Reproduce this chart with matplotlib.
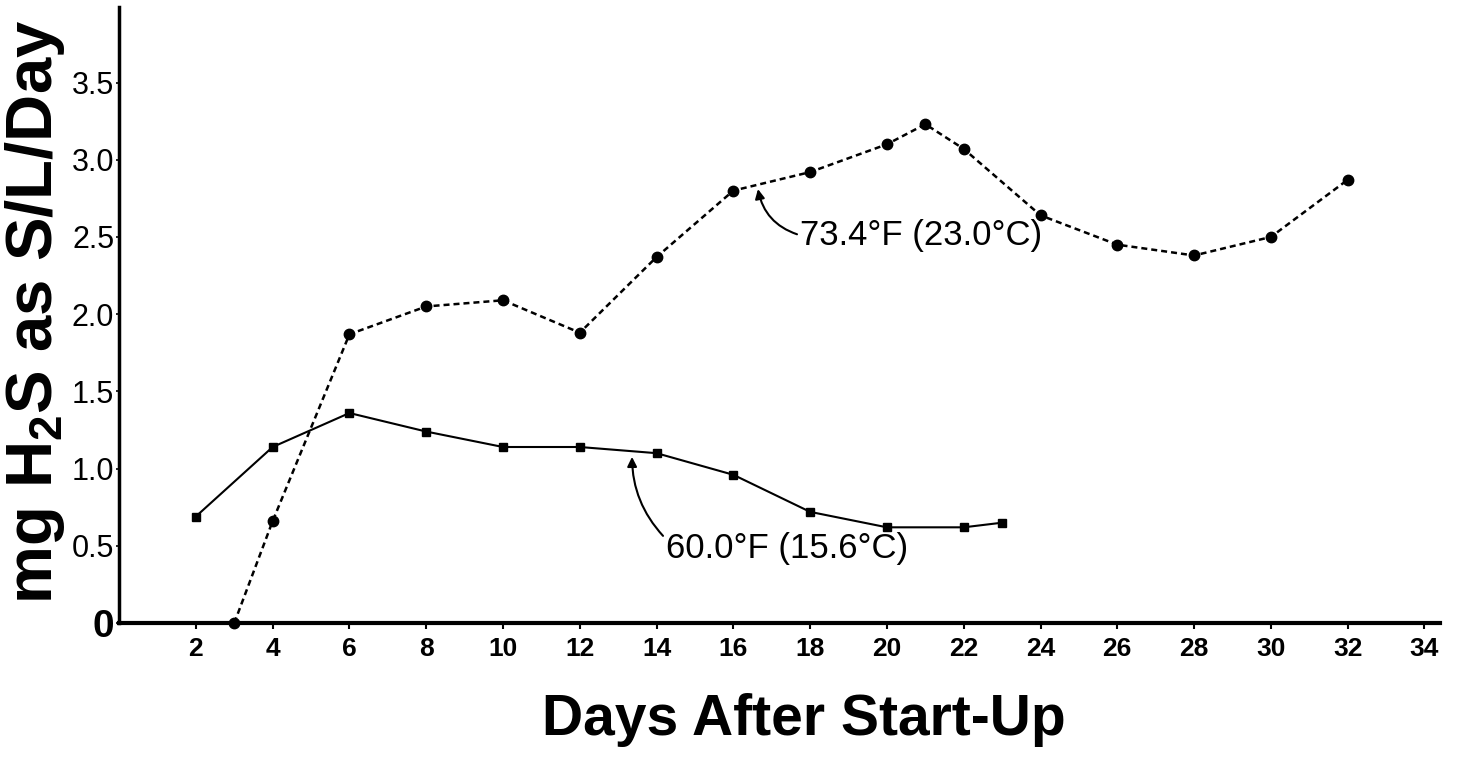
import matplotlib
matplotlib.use("Agg")
import matplotlib.pyplot as plt
from matplotlib import font_manager

# ---- data ----
days_warm = [3, 4, 6, 8, 10, 12, 14, 16, 18, 20, 21, 22, 24, 26, 28, 30, 32]
h2s_warm = [0.0, 0.66, 1.87, 2.05, 2.09, 1.88, 2.37, 2.80, 2.92, 3.10, 3.23, 3.07, 2.64, 2.45, 2.38, 2.50, 2.87]

days_cool = [2, 4, 6, 8, 10, 12, 14, 16, 18, 20, 22, 23]
h2s_cool = [0.69, 1.14, 1.36, 1.24, 1.14, 1.14, 1.10, 0.96, 0.72, 0.62, 0.62, 0.65]

x_ticks = [2, 4, 6, 8, 10, 12, 14, 16, 18, 20, 22, 24, 26, 28, 30, 32, 34]
y_ticks = [0, 0.5, 1.0, 1.5, 2.0, 2.5, 3.0, 3.5]
y_tick_labels = ["0", "0.5", "1.0", "1.5", "2.0", "2.5", "3.0", "3.5"]

label_warm = "73.4°F (23.0°C)"
label_cool = "60.0°F (15.6°C)"
x_label = "Days After Start-Up"
y_label = r"mg H$_\mathbf{2}$S as S/L/Day"

# ---- fonts ----
names = {f.name for f in font_manager.fontManager.ttflist}
narrow = "Liberation Sans Narrow" if "Liberation Sans Narrow" in names else "Liberation Sans"
xlabel_size = 48 if narrow == "Liberation Sans Narrow" else 41
xtick_size = 21 if narrow == "Liberation Sans Narrow" else 19
plt.rcParams["font.family"] = ["Liberation Sans", "DejaVu Sans"]
plt.rcParams["mathtext.fontset"] = "custom"
plt.rcParams["mathtext.rm"] = "Liberation Sans"
plt.rcParams["mathtext.bf"] = "Liberation Sans:bold"

fig = plt.figure(figsize=(14.61, 7.58), dpi=100)
ax = fig.add_axes([0.0815, 0.178, 0.904, 0.813])

ax.plot(days_warm, h2s_warm, color="black", lw=1.8, linestyle=(0, (2.4, 1.6)),
        marker="o", markersize=7.5, clip_on=False, zorder=3)
ax.plot(days_cool, h2s_cool, color="black", lw=1.5, linestyle="-",
        marker="s", markersize=5.5, clip_on=False, zorder=3)

ax.set_xlim(0, 34.4)
ax.set_ylim(0, 3.99)

for s in ["top", "right"]:
    ax.spines[s].set_visible(False)
ax.spines["bottom"].set_linewidth(3)
ax.spines["left"].set_linewidth(2.5)

ax.set_xticks(x_ticks)
ax.set_xticklabels([str(t) for t in x_ticks], fontfamily=narrow,
                   fontweight="bold", fontsize=xtick_size)
ax.tick_params(axis="x", length=4, width=1.5, pad=6, direction="out")

ax.set_yticks(y_ticks)
ax.set_yticklabels(y_tick_labels, fontsize=22)
ax.tick_params(axis="y", length=2.5, width=1.2, pad=1, direction="out")
lbl0 = ax.get_yticklabels()[0]
lbl0.set_fontsize(28)
lbl0.set_fontweight("bold")

# annotations
ax.annotate(label_warm, xy=(16.64, 2.81), xytext=(17.73, 2.45),
            fontsize=25, ha="left", va="baseline",
            arrowprops=dict(arrowstyle="-|>", color="black", lw=1.5,
                            shrinkA=0, shrinkB=0, mutation_scale=14,
                            connectionstyle="arc3,rad=-0.3",
                            relpos=(0.0, 0.5)))
ax.annotate(label_cool, xy=(13.36, 1.076), xytext=(14.24, 0.42),
            fontsize=25, ha="left", va="baseline",
            arrowprops=dict(arrowstyle="-|>", color="black", lw=1.5,
                            shrinkA=0, shrinkB=0, mutation_scale=14,
                            connectionstyle="arc3,rad=-0.2",
                            relpos=(0.0, 0.8)))

fig.text(0.550, 0.030, x_label, fontfamily=narrow, fontweight="bold",
         fontsize=xlabel_size, ha="center", va="baseline")
fig.text(0.024, 0.588, y_label, fontweight="bold", fontsize=47,
         rotation=90, ha="center", va="center")

fig.savefig("out.png", dpi=100)
